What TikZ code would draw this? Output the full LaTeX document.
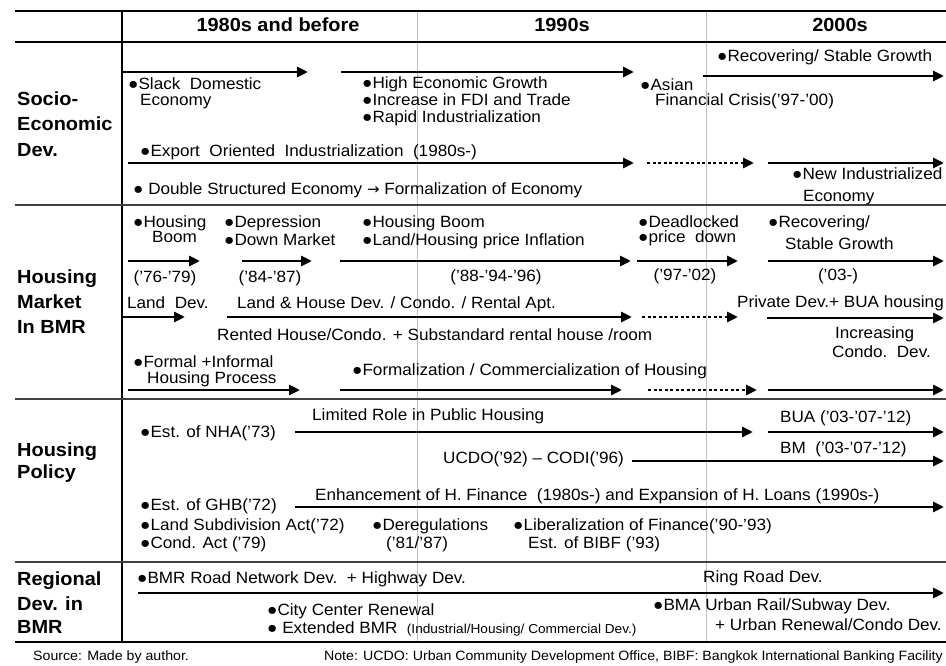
\documentclass[tikz,border=0pt]{standalone}
\usepackage{fontspec}
\setmainfont{Liberation Sans}[FakeStretch=1.05]
\newfontfamily\symfont{DejaVu Sans}
\usetikzlibrary{arrows.meta}
\newcommand\tlarr[5][tl]{\coordinate (#2s) at (#3,#5); \coordinate (#2e) at (#4,#5); \draw[#1] (#2s) -- (#2e);}
\begin{document}
\begin{tikzpicture}[x=1pt,y=-1pt,
  tx/.style={anchor=base west, inner sep=0pt, font=\fontsize{16.3}{18}\selectfont},
  tc/.style={tx, anchor=base},
  lbl/.style={anchor=base west, inner sep=0pt, font=\fontsize{19}{21}\selectfont\bfseries},
  hdr/.style={anchor=base, inner sep=0pt, font=\fontsize{19}{21}\selectfont\bfseries},
  ft/.style={anchor=base west, inner sep=0pt, font=\fontsize{13.5}{15}\selectfont},
  tl/.style={line width=2.8pt, -{Triangle[length=11pt,width=10pt]}},
  tld/.style={tl, dash pattern=on 3pt off 2.5pt},
  thickrule/.style={line width=2.2pt},
  rule/.style={line width=1.3pt, black!75},
  faint/.style={line width=0.6pt, black!25}]
\useasboundingbox (0,0) rectangle (946,666);
\fill[white] (0,0) rectangle (946,666);
% grid lines
\draw[faint] (417,11) -- (417,642);
\draw[faint] (706,11) -- (706,642);
\draw[line width=1.2pt] (122,11) -- (122,642);
\draw[thickrule] (15,11) -- (946,11);
\draw[thickrule] (15,42) -- (946,42);
\draw[rule] (15,205) -- (946,205);
\draw[rule] (15,399) -- (946,399);
\draw[rule] (15,562) -- (946,562);
\draw[thickrule] (15,642) -- (946,642);
% headers
\node[hdr] (h1) at (278,32) {1980s and before};
\node[hdr] (h2) at (562,32) {1990s};
\node[hdr] (h3) at (840,32) {2000s};
% row labels
\node[lbl] (l1a) at (17,106) {Socio-};
\node[lbl] (l1b) at (17,131) {Economic};
\node[lbl] (l1c) at (17,157) {Dev.};
\node[lbl] (l2a) at (17,283) {Housing};
\node[lbl] (l2b) at (17,308) {Market};
\node[lbl] (l2c) at (17,333) {In BMR};
\node[lbl] (l3a) at (17,456) {Housing};
\node[lbl] (l3b) at (17,478) {Policy};
\node[lbl] (l4a) at (17,585) {Regional};
\node[lbl] (l4b) at (17,610) {Dev. in};
\node[lbl] (l4c) at (17,633) {BMR};
% Socio-economic
\tlarr{a1}{122}{308}{72}
\tlarr{a2}{341}{634}{72}
\tlarr{a3}{703}{944}{76}
\tlarr{a4}{128}{634}{163}
\tlarr[tld]{a5}{647}{754}{163}
\tlarr{a6}{768}{944}{163}
\node[tx] (s1a) at (128,90) {●Slack\ \ Domestic};
\node[tx] (s1b) at (140,106) {Economy};
\node[tx] (s2a) at (362,89) {●High Economic Growth};
\node[tx] (s2b) at (362,106) {●Increase in FDI and Trade};
\node[tx] (s2c) at (362,123) {●Rapid Industrialization};
\node[tx] (s3a) at (640,91) {●Asian};
\node[tx] (s3b) at (655,106) {Financial Crisis('97-'00)};
\node[tx] (s4) at (717,62) {●Recovering/ Stable Growth};
\node[tx] (s5) at (140,157) {●Export\ \ Oriented\ \ Industrialization\ \ (1980s-)};
\node[tx] (s6) at (133,195) {● Double Structured Economy {\symfont\fontsize{15}{16}\selectfont →} Formalization of Economy};
\node[tx] (s7a) at (792,180) {●New Industrialized};
\node[tx] (s7b) at (803,201) {Economy};
% Housing market
\node[tx] (m1a) at (133,228) {●Housing};
\node[tx] (m1b) at (152,243) {Boom};
\node[tx] (m2a) at (224,228) {●Depression};
\node[tx] (m2b) at (224,245) {●Down Market};
\node[tx] (m3a) at (362,228) {●Housing Boom};
\node[tx] (m3b) at (362,246) {●Land/Housing price Inflation};
\node[tx] (m4a) at (638,227) {●Deadlocked};
\node[tx] (m4b) at (638,242) {●price\ \ down};
\node[tx] (m5a) at (768,228) {●Recovering/};
\node[tx] (m5b) at (785,250) {Stable Growth};
\tlarr{b1}{128}{200}{261}
\tlarr{b2}{242}{312}{261}
\tlarr{b3}{340}{631}{261}
\tlarr{b4}{637}{738}{261}
\tlarr{b5}{768}{944}{261}
\node[tc] (m6) at (165,282) {('76-'79)};
\node[tc] (m7) at (270,282) {('84-'87)};
\node[tc] (m8) at (496,281) {('88-'94-'96)};
\node[tc] (m9) at (685,280) {('97-'02)};
\node[tc] (m10) at (838,280) {('03-)};
\node[tx] (m11) at (127,308) {Land\ \ Dev.};
\node[tx] (m12) at (237,308) {Land \& House Dev. / Condo. / Rental Apt.};
\node[tx, anchor=base east] (m13) at (944,307) {Private Dev.+ BUA housing};
\tlarr{c1}{122}{185}{317}
\tlarr{c2}{227}{632}{317}
\tlarr[tld]{c3}{642}{738}{317}
\tlarr{c4}{767}{944}{318}
\node[tx] (m14) at (217,340) {Rented House/Condo. + Substandard rental house /room};
\node[tx] (m15a) at (835,338) {Increasing};
\node[tx] (m15b) at (832,357) {Condo.\ \ Dev.};
\node[tx] (m16a) at (133,367) {●Formal +Informal};
\node[tx] (m16b) at (147,383) {Housing Process};
\node[tx] (m17) at (352,375) {●Formalization / Commercialization of Housing};
\tlarr{d1}{128}{300}{390}
\tlarr{d2}{340}{622}{390}
\tlarr[tld]{d3}{648}{757}{390}
\tlarr{d4}{768}{944}{390}
% Housing policy
\node[tx] (p1) at (140,437) {●Est. of NHA('73)};
\node[tx] (p2) at (312,420) {Limited Role in Public Housing};
\node[tx] (p3) at (780,422) {BUA ('03-'07-'12)};
\tlarr{e1}{295}{753}{432}
\tlarr{e2}{768}{944}{432}
\node[tx] (p4) at (443,463) {UCDO('92) – CODI('96)};
\node[tx] (p5) at (780,453) {BM\ \ ('03-'07-'12)};
\tlarr{e3}{632}{944}{461}
\node[tx] (p6) at (315,500) {Enhancement of H. Finance\ \ (1980s-) and Expansion of H. Loans (1990s-)};
\tlarr{e4}{295}{944}{507}
\node[tx] (p7) at (140,510) {●Est. of GHB('72)};
\node[tx] (p8) at (140,530) {●Land Subdivision Act('72)};
\node[tx] (p9) at (140,548) {●Cond. Act ('79)};
\node[tx] (p10a) at (372,530) {●Deregulations};
\node[tx] (p10b) at (386,548) {('81/'87)};
\node[tx] (p11a) at (513,530) {●Liberalization of Finance('90-'93)};
\node[tx] (p11b) at (528,548) {Est. of BIBF ('93)};
% Regional
\node[tx] (r1) at (137,583) {●BMR Road Network Dev.\ \ + Highway Dev.};
\node[tx] (r2) at (703,582) {Ring Road Dev.};
\tlarr{g1}{138}{944}{593}
\node[tx] (r3) at (267,615) {●City Center Renewal};
\node[tx] (r4) at (267,633) {● Extended BMR\ \ {\fontsize{13}{15}\selectfont (Industrial/Housing/ Commercial Dev.)}};
\node[tx] (r5) at (653,610) {●BMA Urban Rail/Subway Dev.};
\node[tx] (r6) at (715,630) {+ Urban Renewal/Condo Dev.};
% footer
\node[ft] (f1) at (33,660) {Source: Made by author.};
\node[ft, anchor=base east] (f2) at (943,660) {Note: UCDO: Urban Community Development Office, BIBF: Bangkok International Banking Facility};
\end{tikzpicture}
\end{document}
